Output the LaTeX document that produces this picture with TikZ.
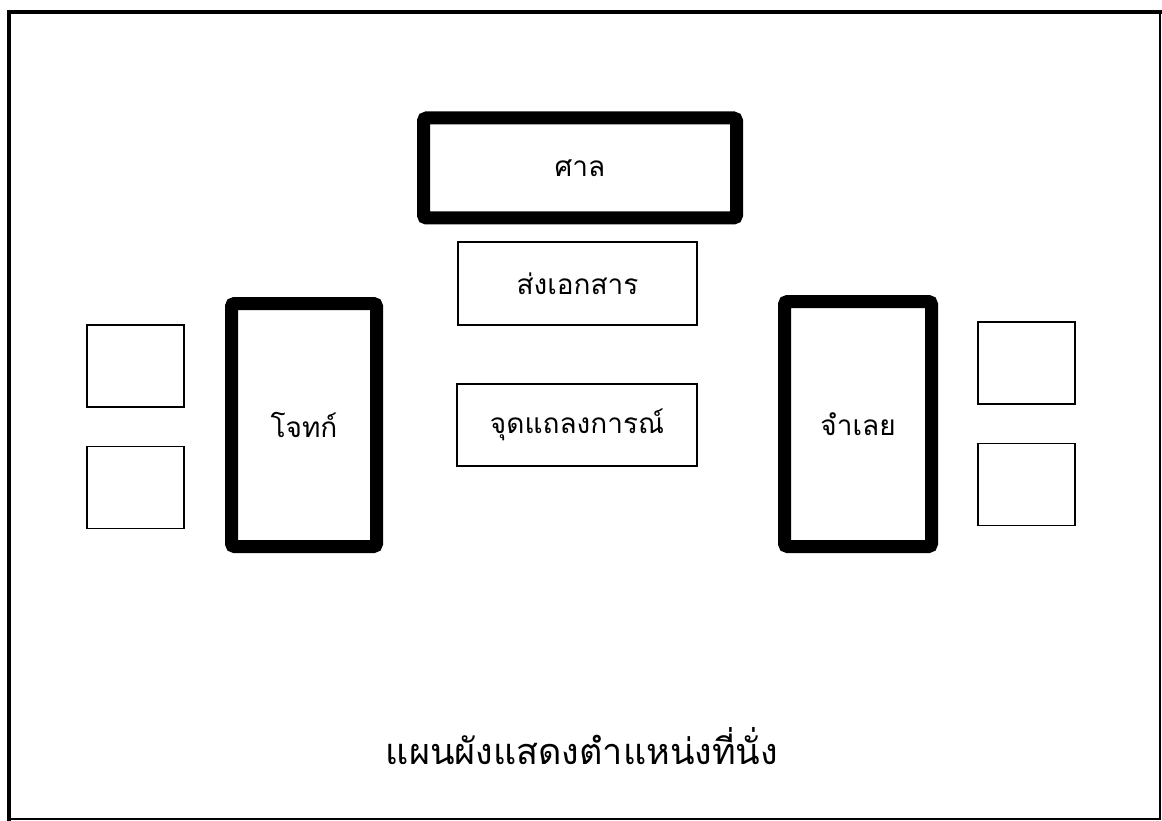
\documentclass[tikz,border=0pt]{standalone}
\usepackage{fontspec}
\newfontfamily\thaifont[Script=Thai]{Loma}
\usetikzlibrary{positioning}

\begin{document}
\begin{tikzpicture}[x=1pt,y=-1pt,inner sep=0pt,font=\thaifont]
    \tikzset{
      bench/.style={
        draw,
        line width=13pt,
        rounded corners=3pt,
        font=\thaifont\fontsize{28}{30}\selectfont
      },
      desk/.style={
        draw,
        line width=1.6pt,
        font=\thaifont\fontsize{28}{30}\selectfont
      },
      seat/.style={
        draw,
        line width=1.6pt,
        minimum width=97pt,
        minimum height=82pt
      }
    }
    \useasboundingbox (0,0) rectangle (1162,821);

    % Frame
    \draw[line width=1.5pt] (9,12) -- (1160,12) -- (1160,819) -- (9,819);
    \draw[line width=4pt] (9,821) -- (9,12) -- (1162,12);

    % Benches
    \node [bench, minimum width=313pt, minimum height=100pt] (court)     at (580,168)   {ศาล};
    \node [bench, minimum width=145pt, minimum height=243pt] (plaintiff) at (304,425)   {โจทก์};
    \node [bench, minimum width=147pt, minimum height=245pt] (defendant) at (858,424)   {จำเลย};

    % Desks
    \node [desk, minimum width=239pt, minimum height=83pt] (docs)      at (577.5,283.5) {ส่งเอกสาร};
    \node [desk, minimum width=240pt, minimum height=82pt] (statement) at (577,425)     {จุดแถลงการณ์};

    % Seats
    \node [seat] (seatlefta)  at (135.5,366) {};
    \node [seat] (seatleftb)  [below=38pt of seatlefta] {};
    \node [seat] (seatrighta) at (1026.5,363) {};
    \node [seat] (seatrightb) [below=38pt of seatrighta] {};

    % Caption
    \node [font=\thaifont\fontsize{36}{40}\selectfont] (caption) at (582,746) {แผนผังแสดงตำแหน่งที่นั่ง};
\end{tikzpicture}
\end{document}
